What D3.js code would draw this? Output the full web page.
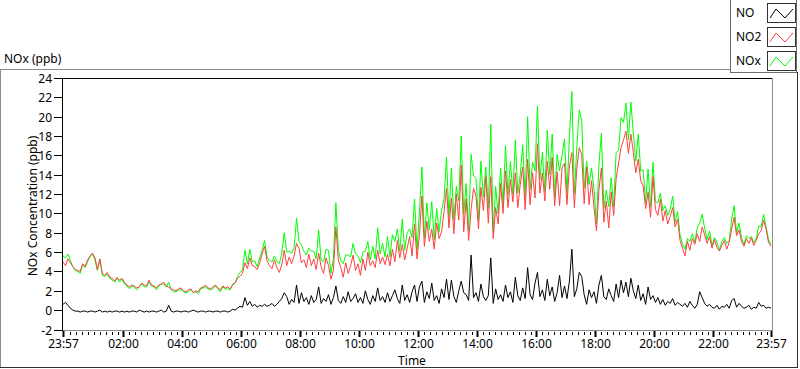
<!doctype html>
<html lang="en">
<head>
<meta charset="utf-8">
<script src="https://d3js.org/d3.v7.min.js"></script>
<style type="text/css">
    body { margin: 0; padding: 0; background: #fff; }
    svg text { font-family: "Noto Sans", "DejaVu Sans", sans-serif; font-size: 12px; fill: #000; }
    .trace { fill: none; stroke-width: 1px; }
</style>
</head>
<body>
<svg id="chart" width="800" height="369"></svg>
<script type="text/javascript">

// one sample every 5 minutes, starting 23:57 the day before
var stepMinutes = 5;

var no2 = [
    5.0, 4.6, 5.3, 4.9, 4.5, 4.2, 4.1, 4.0, 4.8, 4.5, 5.2, 5.6,
    5.9, 5.4, 4.2, 5.3, 3.8, 3.6, 3.9, 3.4, 3.3, 3.0, 3.4, 3.1,
    3.3, 2.9, 2.6, 2.4, 2.6, 2.5, 2.3, 2.4, 2.8, 2.6, 2.5, 3.1,
    2.6, 2.5, 2.3, 2.6, 2.7, 2.9, 2.5, 2.4, 2.2, 2.1, 2.0, 2.2,
    2.3, 2.0, 1.9, 2.1, 2.2, 1.8, 2.0, 1.9, 2.3, 2.4, 2.6, 2.3,
    2.2, 2.4, 2.6, 2.3, 2.1, 2.5, 2.3, 2.4, 2.2, 2.6, 2.8, 3.3,
    3.5, 3.8, 4.9, 4.3, 5.4, 4.6, 4.5, 4.2, 4.9, 5.8, 6.6, 5.1,
    4.6, 4.3, 5.2, 4.4, 3.9, 4.7, 6.2, 4.6, 5.5, 4.8, 5.6, 6.9,
    6.4, 4.9, 5.2, 4.4, 5.8, 4.6, 5.3, 4.2, 5.9, 4.5, 3.8, 5.4,
    4.6, 3.2, 4.1, 8.6, 5.2, 4.4, 3.4, 4.9, 3.8, 4.6, 5.7, 4.1,
    4.8, 3.6, 5.3, 4.1, 6.0, 4.6, 5.1, 4.4, 6.2, 4.8, 5.5, 4.7,
    5.8, 4.6, 6.3, 5.0, 7.2, 5.4, 6.8, 5.2, 6.4, 7.6, 5.6, 8.9,
    5.3, 7.8, 11.8, 6.6, 9.2, 7.1, 8.4, 6.3, 9.0, 7.4, 8.1, 10.2,
    12.6, 8.5, 11.6, 7.9, 12.0, 9.3, 15.0, 8.1, 11.5, 7.2, 10.4, 12.6,
    11.8, 8.4, 12.7, 10.3, 13.8, 9.0, 13.8, 7.4, 10.6, 8.9, 13.1, 10.0,
    14.4, 10.6, 13.5, 11.2, 14.2, 10.6, 13.0, 14.8, 10.4, 15.6, 10.9, 14.2,
    11.6, 17.2, 12.1, 14.2, 11.3, 15.4, 12.5, 15.8, 10.8, 14.3, 10.8, 14.7,
    15.2, 10.9, 14.9, 16.3, 10.6, 14.6, 16.8, 16.1, 11.0, 14.8, 10.9, 13.4,
    10.6, 8.2, 12.4, 14.7, 9.1, 11.3, 8.5, 12.2, 9.8, 13.6, 15.2, 16.8,
    17.6, 18.5, 16.2, 18.2, 16.3, 14.2, 15.6, 13.4, 12.8, 10.5, 12.2, 9.6,
    13.8, 10.4, 9.8, 11.5, 9.2, 10.3, 8.9, 9.7, 10.6, 8.6, 9.4, 7.2,
    6.4, 5.6, 7.1, 6.2, 7.4, 6.8, 7.9, 7.1, 8.6, 7.8, 6.9, 7.6,
    6.4, 7.3, 6.5, 6.1, 6.7, 7.2, 6.3, 7.0, 8.4, 9.6, 7.7, 8.3,
    7.1, 6.6, 7.4, 6.9, 7.5, 6.7, 7.2, 7.9, 8.2, 9.3, 8.4, 7.0, 6.6
];

var no = [
    0.6, 0.8, 0.5, 0.2, 0.0, -0.1, -0.1, -0.2, -0.1, -0.1, -0.2, -0.1,
    -0.1, -0.2, -0.1, 0.0, -0.2, -0.1, -0.2, -0.1, -0.2, -0.1, -0.1, -0.2,
    -0.1, -0.2, -0.1, -0.2, -0.1, -0.1, -0.2, 0.0, -0.1, -0.2, -0.1, -0.2,
    -0.1, -0.1, -0.2, -0.1, 0.0, -0.2, -0.1, 0.5, -0.1, -0.2, -0.1, -0.1,
    -0.2, -0.1, -0.1, -0.2, -0.1, 0.0, -0.1, -0.2, -0.1, -0.1, -0.2, -0.1,
    -0.1, -0.2, -0.1, -0.1, -0.2, -0.1, -0.1, -0.2, -0.1, 0.1, 0.0, 0.2,
    0.4, 0.3, 1.3, 0.5, 0.9, 0.4, 0.6, 0.3, 0.5, 0.4, 0.6, 0.4,
    0.5, 0.7, 0.4, 0.6, 0.9, 1.2, 1.8, 1.4, 0.6, 1.1, 0.8, 2.6,
    0.7, 1.8, 0.9, 1.3, 0.6, 1.5, 0.8, 1.1, 2.4, 0.7, 1.2, 0.9,
    1.6, 0.6, 1.3, 2.5, 1.0, 0.7, 1.4, 0.8, 1.9, 0.9, 1.2, 1.7,
    0.8, 1.3, 0.7, 2.0, 1.1, 0.6, 1.5, 0.9, 2.3, 1.0, 1.4, 0.8,
    1.8, 0.9, 1.5, 2.1, 1.2, 0.7, 2.6, 1.0, 1.6, 0.8, 1.9, 2.6,
    0.9, 2.4, 3.0, 0.8, 1.9, 1.2, 2.8, 1.0, 1.5, 0.7, 2.2, 1.3,
    3.2, 1.1, 3.1, 1.4, 0.8, 2.0, 3.0, 1.8, 1.6, 1.0, 5.7, 1.3,
    1.8, 0.9, 2.7, 1.4, 1.0, 1.5, 5.4, 0.7, 2.2, 1.1, 1.6, 0.9,
    2.6, 1.3, 1.9, 0.8, 3.4, 1.5, 1.0, 2.3, 1.2, 4.4, 1.6, 1.1,
    2.8, 3.9, 1.4, 2.1, 1.0, 3.2, 1.5, 2.4, 0.9, 1.8, 3.6, 1.3,
    2.5, 1.2, 3.0, 6.3, 1.4, 2.2, 3.9, 3.5, 1.6, 0.6, 2.1, 1.3,
    1.9, 0.7, 2.6, 3.6, 1.4, 1.1, 2.2, 1.5, 0.9, 2.7, 1.3, 3.1,
    1.8, 2.9, 1.4, 3.3, 2.0, 1.2, 2.6, 1.0, 1.7, 0.6, 2.4, 1.1,
    1.5, 0.8, 1.3, 0.6, 1.1, 0.5, 0.9, 0.7, 1.2, 0.5, 0.8, 0.6,
    0.4, 0.7, 0.3, 0.9, 0.5, 0.2, 0.6, 1.9, 1.3, 0.7, 0.4, 0.6,
    0.3, 0.2, 0.5, 0.1, 0.4, 0.3, 0.6, 0.2, 1.0, 1.2, 0.3, 0.7,
    0.4, 0.2, 0.3, 0.5, 0.1, 0.3, 0.2, 0.8, 0.4, 0.5, 0.2, 0.3, 0.2
];

var nox = [
    5.6, 5.4, 5.8, 5.1, 4.5, 4.1, 4.0, 3.8, 4.7, 4.4, 5.0, 5.5,
    5.8, 5.2, 4.1, 5.3, 3.6, 3.5, 3.7, 3.3, 3.1, 2.9, 3.3, 2.9,
    3.2, 2.7, 2.5, 2.2, 2.5, 2.4, 2.1, 2.4, 2.7, 2.4, 2.4, 2.9,
    2.5, 2.4, 2.1, 2.5, 2.7, 2.7, 2.4, 2.9, 2.1, 1.9, 1.9, 2.1,
    2.1, 1.9, 1.8, 1.9, 2.1, 1.8, 1.9, 1.7, 2.2, 2.3, 2.4, 2.2,
    2.1, 2.2, 2.5, 2.2, 1.9, 2.4, 2.2, 2.2, 2.1, 2.7, 2.8, 3.5,
    3.9, 4.1, 6.2, 4.8, 6.3, 5.0, 5.1, 4.5, 5.4, 6.2, 7.2, 5.5,
    5.1, 5.0, 5.6, 5.0, 4.8, 5.9, 8.0, 6.0, 6.1, 5.9, 6.4, 9.5,
    7.1, 6.7, 6.1, 5.7, 6.4, 6.1, 6.1, 5.3, 8.3, 5.2, 5.0, 6.3,
    6.2, 3.8, 5.4, 11.1, 6.2, 5.1, 4.8, 5.7, 5.7, 5.5, 6.9, 5.8,
    5.6, 4.9, 6.0, 6.1, 7.1, 5.2, 6.6, 5.3, 8.5, 5.8, 6.9, 5.5,
    7.6, 5.5, 7.8, 7.1, 8.4, 6.1, 9.4, 6.2, 8.0, 8.4, 7.5, 11.5,
    6.2, 10.2, 14.8, 7.4, 11.1, 8.3, 11.2, 7.3, 10.5, 8.1, 10.3, 11.5,
    15.8, 9.6, 14.7, 9.3, 12.8, 11.3, 18.0, 9.9, 13.1, 8.2, 16.1, 13.9,
    13.6, 9.3, 15.4, 11.7, 14.8, 10.5, 19.2, 8.1, 12.8, 10.0, 14.7, 10.9,
    17.0, 11.9, 15.4, 12.0, 17.6, 12.1, 14.0, 17.1, 11.6, 20.0, 12.5, 15.3,
    14.4, 21.1, 13.5, 16.3, 12.3, 18.6, 14.0, 18.2, 11.7, 16.1, 14.4, 16.0,
    17.7, 12.1, 17.9, 22.6, 12.0, 16.8, 20.7, 19.6, 12.6, 15.4, 13.0, 14.7,
    12.5, 8.9, 15.0, 18.3, 10.5, 12.4, 10.7, 13.7, 10.7, 16.3, 16.5, 19.9,
    19.4, 21.4, 17.6, 21.5, 18.3, 15.4, 18.2, 14.4, 14.5, 11.1, 14.6, 10.7,
    15.3, 11.2, 11.1, 12.1, 10.3, 10.8, 9.8, 10.4, 11.8, 9.1, 10.2, 7.8,
    6.8, 6.3, 7.4, 7.1, 7.9, 7.0, 8.5, 9.0, 9.9, 8.5, 7.3, 8.2,
    6.7, 7.5, 7.0, 6.2, 7.1, 7.5, 6.9, 7.2, 9.4, 10.8, 8.0, 9.0,
    7.5, 6.8, 7.7, 7.4, 7.6, 7.0, 7.4, 8.7, 8.6, 9.9, 8.6, 7.3, 6.8
];

// x axis: minutes after 23:57
var tickMinutes = [0, 123, 243, 363, 483, 603, 723, 843, 963, 1083, 1203, 1323, 1440];
var tickLabels = ["23:57", "02:00", "04:00", "06:00", "08:00", "10:00", "12:00",
                  "14:00", "16:00", "18:00", "20:00", "22:00", "23:57"];
var yTicks = [-2, 0, 2, 4, 6, 8, 10, 12, 14, 16, 18, 20, 22, 24];

var legendNames = ["NO", "NO2", "NOx"];
var legendColors = ["#000000", "#ff4040", "#00ff00"];

var svg = d3.select("#chart");

var plotLeft = 62, plotRight = 772, plotTop = 78, plotBottom = 330;

var x = d3.scaleLinear().domain([0, 1440]).range([63, 771]);
var y = d3.scaleLinear().domain([-2, 24]).range([329.5, 78]);

// outer frame
svg.append("line").attr("x1", 0).attr("x2", 730).attr("y1", 69.5).attr("y2", 69.5).attr("stroke", "#8c8c8c");
svg.append("line").attr("x1", 0.5).attr("x2", 0.5).attr("y1", 69).attr("y2", 368).attr("stroke", "#8c8c8c");
svg.append("line").attr("x1", 0).attr("x2", 798).attr("y1", 367.5).attr("y2", 367.5).attr("stroke", "#303030");
svg.append("line").attr("x1", 797.5).attr("x2", 797.5).attr("y1", 72).attr("y2", 368).attr("stroke", "#303030");

svg.append("text").attr("x", 4).attr("y", 63).text("NOx (ppb)");

// plot area
svg.append("rect").attr("x", plotLeft).attr("y", plotTop)
    .attr("width", plotRight - plotLeft).attr("height", plotBottom - plotTop)
    .attr("fill", "#fff");

var series = [
    { values: nox, color: "#00ff00" },
    { values: no2, color: "#ff4040" },
    { values: no, color: "#000000" }
];

var line = d3.line()
    .x(function (d, i) { return x(i * stepMinutes); })
    .y(function (d) { return y(d); });

var plot = svg.append("g");
series.forEach(function (s) {
    plot.append("path")
        .datum(s.values)
        .attr("class", "trace")
        .attr("stroke", s.color)
        .attr("d", line);
});

// borders of the plot area
svg.append("line").attr("x1", plotLeft).attr("x2", plotRight).attr("y1", plotTop + 0.5).attr("y2", plotTop + 0.5).attr("stroke", "#000");
svg.append("line").attr("x1", plotRight + 0.5).attr("x2", plotRight + 0.5).attr("y1", plotTop).attr("y2", plotBottom + 1).attr("stroke", "#8c8c8c");
svg.append("line").attr("x1", plotLeft).attr("x2", plotRight).attr("y1", plotBottom + 0.5).attr("y2", plotBottom + 0.5).attr("stroke", "#8c8c8c");
svg.append("line").attr("x1", plotLeft + 0.5).attr("x2", plotLeft + 0.5).attr("y1", plotTop).attr("y2", plotBottom + 1).attr("stroke", "#000");

// y axis
var yAxis = svg.append("g");
yTicks.forEach(function (v) {
    var yy = Math.round(y(v)) + 0.5;
    yAxis.append("line").attr("x1", 54).attr("x2", plotLeft).attr("y1", yy).attr("y2", yy).attr("stroke", "#000");
    yAxis.append("text").attr("x", 52).attr("y", yy + 4).attr("text-anchor", "end").text(v);
});

// x axis: majors with labels, minors every 12 minutes
var xAxis = svg.append("g");
for (var m = 3; m < 1440; m += 12) {
    var near = tickMinutes.some(function (t) { return Math.abs(t - m) < 6; });
    if (near) continue;
    var xm = Math.round(x(m)) + 0.5;
    xAxis.append("line").attr("x1", xm).attr("x2", xm).attr("y1", 332).attr("y2", 335).attr("stroke", "#000");
}
tickMinutes.forEach(function (t, i) {
    var xx = Math.round(x(t)) + 0.5;
    xAxis.append("line").attr("x1", xx).attr("x2", xx).attr("y1", 331).attr("y2", 337).attr("stroke", "#000").attr("stroke-width", 2);
    xAxis.append("text").attr("x", xx).attr("y", 348).attr("text-anchor", "middle").text(tickLabels[i]);
});

svg.append("text").attr("x", 412).attr("y", 365).attr("text-anchor", "middle").text("Time");
svg.append("text")
    .attr("transform", "translate(37," + 206 + ") rotate(-90)")
    .attr("text-anchor", "middle")
    .text("NOx Concentration (ppb)");

// legend
var legend = svg.append("g");
legend.append("rect").attr("x", 730.5).attr("y", -1).attr("width", 66).attr("height", 73.5)
    .attr("fill", "#fff").attr("stroke", "#6e6e6e");
legendNames.forEach(function (name, i) {
    var top = 3 + i * 24;
    legend.append("text").attr("x", 736).attr("y", top + 14).text(name);
    legend.append("rect").attr("x", 767.5).attr("y", top + 0.5).attr("width", 28).attr("height", 19)
        .attr("fill", "#fff").attr("stroke", "#333");
    legend.append("path")
        .attr("d", "M" + 770 + "," + (top + 15) + "L" + 776 + "," + (top + 6) + "L" + 785 + "," + (top + 15) + "L" + 793 + "," + (top + 6))
        .attr("fill", "none").attr("stroke", legendColors[i]);
});

</script>
</body>
</html>
